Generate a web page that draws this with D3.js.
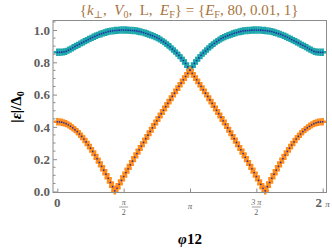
<!DOCTYPE html>
<html lang="en">
  <head>
    <meta charset="UTF-8" />
    <title>Energy branches</title>
    <script src="https://d3js.org/d3.v7.min.js"></script>
    <style>
      body { margin: 0; background: #fff; }
    </style>
  </head>
  <body>
    <svg width="332" height="250" font-family="'Liberation Serif', 'DejaVu Serif', serif"></svg>
    <script>
      // phase (degrees) and the two |eps|/Delta0 branches
      var phiDeg = [0, 3, 6, 9, 12, 15, 18, 21, 24, 27, 30, 33, 36, 39, 42, 45, 48, 51, 54, 57, 60,
        63, 66, 69, 72, 75, 78, 81, 84, 87, 90, 93, 96, 99, 102, 105, 108, 111, 114, 117, 120,
        123, 126, 129, 132, 135, 138, 141, 144, 147, 150, 153, 156, 159, 162, 165, 168, 171, 174, 177, 180,
        183, 186, 189, 192, 195, 198, 201, 204, 207, 210, 213, 216, 219, 222, 225, 228, 231, 234, 237, 240,
        243, 246, 249, 252, 255, 258, 261, 264, 267, 270, 273, 276, 279, 282, 285, 288, 291, 294, 297, 300,
        303, 306, 309, 312, 315, 318, 321, 324, 327, 330, 333, 336, 339, 342, 345, 348, 351, 354, 357, 360]

      var upper = [0.862, 0.862, 0.863, 0.865, 0.868, 0.875, 0.882, 0.890, 0.898, 0.905, 0.912,
        0.920, 0.927, 0.934, 0.941, 0.948, 0.955, 0.961, 0.967, 0.973, 0.977,
        0.982, 0.986, 0.990, 0.993, 0.995, 0.997, 0.998, 0.999, 1.000, 1.000,
        1.000, 0.999, 0.998, 0.997, 0.996, 0.994, 0.991, 0.988, 0.984, 0.980,
        0.975, 0.970, 0.965, 0.959, 0.953, 0.946, 0.937, 0.928, 0.918, 0.907,
        0.896, 0.882, 0.870, 0.857, 0.843, 0.827, 0.811, 0.793, 0.772, 0.752,
        0.772, 0.793, 0.811, 0.827, 0.843, 0.857, 0.870, 0.882, 0.896, 0.907,
        0.918, 0.928, 0.937, 0.946, 0.953, 0.959, 0.965, 0.970, 0.975, 0.980,
        0.984, 0.988, 0.991, 0.994, 0.996, 0.997, 0.998, 0.999, 1.000, 1.000,
        1.000, 0.999, 0.998, 0.997, 0.995, 0.993, 0.990, 0.986, 0.982, 0.977,
        0.973, 0.967, 0.961, 0.955, 0.948, 0.941, 0.934, 0.927, 0.920, 0.912,
        0.905, 0.898, 0.890, 0.882, 0.875, 0.868, 0.865, 0.863, 0.862, 0.862]

      var lower = [0.432, 0.431, 0.429, 0.425, 0.420, 0.413, 0.404, 0.394, 0.383, 0.371, 0.356,
        0.341, 0.325, 0.307, 0.288, 0.268, 0.248, 0.226, 0.203, 0.180, 0.156,
        0.132, 0.107, 0.082, 0.056, 0.030, 0.004, 0.020, 0.045, 0.069, 0.093,
        0.117, 0.141, 0.165, 0.188, 0.212, 0.235, 0.258, 0.281, 0.304, 0.327,
        0.349, 0.372, 0.394, 0.416, 0.438, 0.460, 0.482, 0.503, 0.525, 0.546,
        0.567, 0.589, 0.609, 0.630, 0.651, 0.671, 0.692, 0.712, 0.732, 0.752,
        0.732, 0.712, 0.692, 0.671, 0.651, 0.630, 0.609, 0.589, 0.567, 0.546,
        0.525, 0.503, 0.482, 0.460, 0.438, 0.416, 0.394, 0.372, 0.349, 0.327,
        0.304, 0.281, 0.258, 0.235, 0.212, 0.188, 0.165, 0.141, 0.117, 0.093,
        0.069, 0.045, 0.020, 0.004, 0.030, 0.056, 0.082, 0.107, 0.132, 0.156,
        0.180, 0.203, 0.226, 0.248, 0.268, 0.288, 0.307, 0.325, 0.341, 0.356,
        0.371, 0.383, 0.394, 0.404, 0.413, 0.420, 0.425, 0.429, 0.431, 0.432]

      var yTicks = [0, 0.2, 0.4, 0.6, 0.8, 1.0]
      var yTickLabels = ['0.0', '0.2', '0.4', '0.6', '0.8', '1.0']
      var xTicks = [0, 90, 180, 270, 360]

      var svg = d3.select('svg')
      var serif = "'Liberation Serif', 'DejaVu Serif', serif"
      var frame = { left: 53, right: 326.5, top: 20.5, bottom: 192.5 }

      var x = d3.scaleLinear().domain([0, 360]).range([57.3, 322.7])
      var y = d3.scaleLinear().domain([0, 1]).range([191.5, 30])

      var grey = '#8c8c8c'
      var labelGrey = '#5e5e5e'

      // markers first, frame drawn on top
      var cross = d3.symbol().type(d3.symbolCross).size(30)

      function drawSeries(vals, color) {
        svg.append('g')
          .selectAll('path')
          .data(vals)
          .enter()
          .append('path')
          .attr('d', cross)
          .attr('transform', function(d, i) {
            return 'translate(' + x(phiDeg[i]) + ',' + y(d) + ')'
          })
          .attr('fill', color)
      }
      drawSeries(upper, '#1ca7ab')
      drawSeries(lower, '#ff8c1a')

      function drawDots(vals) {
        svg.append('g')
          .selectAll('circle')
          .data(vals)
          .enter()
          .append('circle')
          .attr('cx', function(d, i) { return x(phiDeg[i]) })
          .attr('cy', function(d) { return y(d) })
          .attr('r', 0.85)
          .attr('fill', '#2b2ba6')
      }
      drawDots(upper)
      drawDots(lower)

      // frame
      svg.append('rect')
        .attr('x', frame.left)
        .attr('y', frame.top)
        .attr('width', frame.right - frame.left)
        .attr('height', frame.bottom - frame.top)
        .attr('fill', 'none')
        .attr('stroke', grey)
        .attr('stroke-width', 1)

      // y axis ticks (major + minor, inward)
      var yAxis = d3.axisLeft(y).tickValues(yTicks).tickSize(-4)
        .tickFormat(function(d, i) { return yTickLabels[i] })
      var gy = svg.append('g').attr('transform', 'translate(' + frame.left + ',0)').call(yAxis)
      gy.select('.domain').remove()
      gy.selectAll('line').attr('stroke', grey)
      gy.selectAll('text')
        .attr('x', -3)
        .attr('fill', labelGrey)
        .attr('font-family', serif)
        .attr('font-size', 13)
        .attr('font-weight', 'bold')

      var minor = d3.range(0, 1.06, 0.05).filter(function(v) {
        return Math.abs(v * 5 - Math.round(v * 5)) > 1e-6
      })
      svg.append('g')
        .selectAll('line')
        .data(minor)
        .enter()
        .append('line')
        .attr('x1', frame.left)
        .attr('x2', frame.left + 2.5)
        .attr('y1', function(d) { return y(d) })
        .attr('y2', function(d) { return y(d) })
        .attr('stroke', grey)

      // x axis ticks
      var xAxis = d3.axisBottom(x).tickValues(xTicks).tickSize(-4).tickFormat('')
      var gx = svg.append('g').attr('transform', 'translate(0,' + frame.bottom + ')').call(xAxis)
      gx.select('.domain').remove()
      gx.selectAll('line').attr('stroke', grey)

      // x tick labels (pi fractions)
      var xl = svg.append('g').attr('fill', labelGrey).attr('font-family', serif)
      xl.append('text').attr('x', x(0)).attr('y', 207).attr('text-anchor', 'middle')
        .attr('font-size', 13).attr('font-weight', 'bold').text('0')
      function frac(deg, num) {
        var g = xl.append('g').attr('transform', 'translate(' + x(deg) + ',0)')
        g.append('text').attr('y', 204.5).attr('text-anchor', 'middle')
          .attr('font-size', 8).attr('font-style', 'italic').text(num)
        g.append('line').attr('x1', -4.5).attr('x2', 4.5).attr('y1', 207).attr('y2', 207)
          .attr('stroke', labelGrey).attr('stroke-width', 0.6)
        g.append('text').attr('y', 214.5).attr('text-anchor', 'middle')
          .attr('font-size', 8).text('2')
      }
      frac(90, 'π')
      frac(270, '3 π')
      xl.append('text').attr('x', x(180)).attr('y', 209).attr('text-anchor', 'middle')
        .attr('font-size', 9).attr('font-style', 'italic').text('π')
      var t2 = xl.append('text').attr('x', x(360)).attr('y', 207).attr('text-anchor', 'middle')
        .attr('font-size', 13).attr('font-weight', 'bold')
      t2.append('tspan').text('2 ')
      t2.append('tspan').attr('font-size', 9).attr('font-weight', 'normal')
        .attr('font-style', 'italic').text('π')

      // title
      var title = svg.append('text')
        .attr('x', 189).attr('y', 15).attr('text-anchor', 'middle')
        .attr('font-family', serif)
        .style('white-space', 'pre')
        .attr('fill', '#a8743e').attr('font-size', 15)
      var shift = 0
      function part(txt, italic) {
        var s = title.append('tspan').text(txt)
        if (shift) { s.attr('dy', -shift); shift = 0 }
        if (italic) s.attr('font-style', 'italic')
      }
      function sub(txt) {
        title.append('tspan').attr('dy', 3).attr('font-size', 10).text(txt)
        shift = 3
      }
      part('{')
      part('k', true); sub('⊥')
      part(',  ')
      part('V', true); sub('0')
      part(',  L,  ')
      part('E', true); sub('F')
      part('} = {')
      part('E', true); sub('F')
      part(', 80, 0.01, 1}')

      // axis titles
      var yl = svg.append('text')
        .attr('transform', 'translate(21,107) rotate(-90)')
        .attr('text-anchor', 'middle')
        .attr('font-family', serif)
        .attr('font-size', 15).attr('font-weight', 'bold')
      yl.append('tspan').text('|')
      yl.append('tspan').attr('font-style', 'italic').text('ε')
      yl.append('tspan').text('|/Δ')
      yl.append('tspan').attr('dy', 3).attr('font-size', 10).text('0')

      var xlab = svg.append('text')
        .attr('x', 190).attr('y', 244).attr('text-anchor', 'middle')
        .attr('font-family', serif)
        .attr('font-size', 15).attr('font-weight', 'bold')
      xlab.append('tspan').attr('font-style', 'italic').text('φ')
      xlab.append('tspan').text('12')
    </script>
  </body>
</html>
